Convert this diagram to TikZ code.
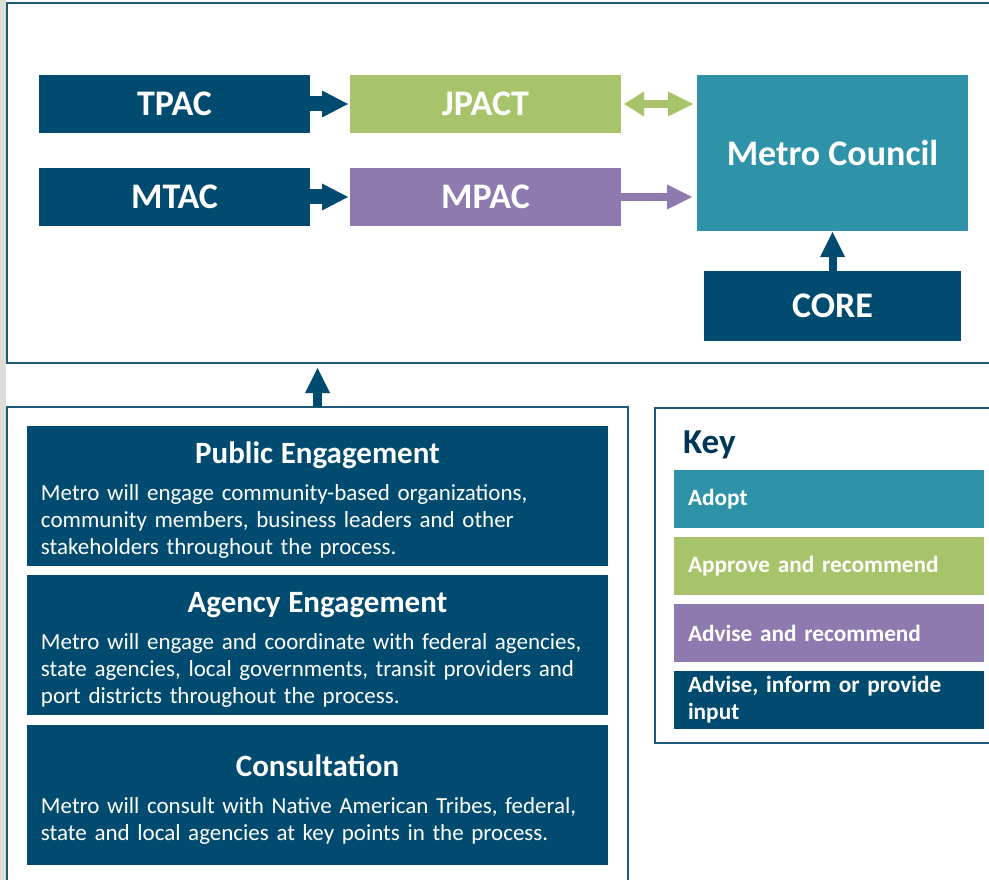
\documentclass[tikz,border=0pt]{standalone}
\usepackage{fontspec}
\setmainfont{Carlito}
\usetikzlibrary{positioning,arrows.meta}

\definecolor{navy}{RGB}{0,75,111}
\definecolor{framecol}{RGB}{30,88,122}
\definecolor{keynavy}{RGB}{0,55,88}
\definecolor{adoptcol}{RGB}{46,147,168}
\definecolor{approvecol}{RGB}{168,196,106}
\definecolor{advisecol}{RGB}{142,122,174}
\definecolor{stripcol}{RGB}{221,221,218}

\newcommand{\engtitle}[1]{{\centering\fontsize{31}{34}\selectfont\bfseries\rule{0pt}{30pt}#1\par}\vspace{10pt}}

\begin{document}
\begin{tikzpicture}[x=1pt,y=-1pt,
  box/.style={fill=#1,text=white,inner sep=0pt,outer sep=0pt,
    minimum width=271pt,minimum height=58pt,
    font=\fontsize{36}{40}\selectfont\bfseries},
  frame/.style={draw=framecol,line width=1.5pt,inner sep=0pt,outer sep=0pt},
  engbox/.style={fill=navy,text=white,outer sep=0pt,inner ysep=0pt,inner xsep=14pt,
    text width=553pt,minimum height=140pt,
    font=\fontsize{23}{27}\selectfont},
  keybox/.style={fill=#1,text=white,outer sep=0pt,inner ysep=0pt,inner xsep=14pt,
    text width=282pt,minimum height=58pt,align=left,
    font=\fontsize{23.3}{27}\selectfont\bfseries},
  bigarrow/.style={draw=#1,line width=15pt,
    -{Triangle[length=26pt,width=27pt,line width=0pt]}},
  slimarrow/.style={draw=#1,line width=8pt,
    -{Triangle[length=25pt,width=25pt,line width=0pt]}}]
  \clip (0,0) rectangle (989,880);
  \fill[stripcol] (0,0) rectangle (6,880);

  % outer frames
  \node[frame,minimum width=993pt,minimum height=360pt] (boardframe) at (503.5,183) {};
  \node[frame,minimum width=621pt,minimum height=493pt] (engframe) at (317.5,653.5) {};
  \node[frame,minimum width=345pt,minimum height=335pt] (keyframe) at (827.5,575.5) {};

  % committees
  \node[box=navy] (tpac) at (174.5,104) {TPAC};
  \node[box=approvecol] (jpact) [right=40pt of tpac] {JPACT};
  \node[box=navy] (mtac) [below=35pt of tpac] {MTAC};
  \node[box=advisecol] (mpac) [right=40pt of mtac] {MPAC};
  \node[box=adoptcol,minimum height=156pt] (council) at (832.5,153) {Metro Council};
  \node[box=navy,minimum width=257pt,minimum height=70pt] (core) [below=40pt of council] {CORE};

  \path (tpac) edge[bigarrow=navy,shorten >=2pt] (jpact)
        (mtac) edge[bigarrow=navy,shorten >=2pt] (mpac)
        (mpac.east) edge[slimarrow=advisecol,shorten >=5pt] (mpac.east -| council.west)
        (core) edge[slimarrow=navy,shorten >=1pt] (council);
  \draw[draw=approvecol,line width=8pt,
    {Triangle[length=20pt,width=25pt,line width=0pt]}-{Triangle[length=25pt,width=25pt,line width=0pt]},
    shorten <=3pt,shorten >=4pt] (jpact) -- (jpact -| council.west);

  % engagement
  \node[engbox] (public) at (317.5,496) {\engtitle{Public Engagement}
    \raggedright Metro will engage community-based organizations,\\
    community members, business leaders and other\\
    stakeholders throughout the process.};
  \node[engbox] (agency) [below=9pt of public] {\engtitle{Agency Engagement}
    \raggedright Metro will engage and coordinate with federal agencies,\\
    state agencies, local governments, transit providers and\\
    port districts throughout the process.};
  \node[engbox] (consult) [below=10pt of agency] {\engtitle{Consultation}
    \raggedright Metro will consult with Native American Tribes, federal,\\
    state and local agencies at key points in the process.};

  \path (engframe.north) edge[slimarrow=navy,line width=9pt,shorten >=5pt] (engframe.north |- boardframe.south);

  % key
  \node[anchor=west,text=keynavy,inner sep=0pt,font=\fontsize{35}{38}\selectfont\bfseries] (keytitle) at (683,445) {Key};
  \node[keybox=adoptcol] (adopt) at (829,499) {Adopt};
  \node[keybox=approvecol] (approve) [below=9pt of adopt] {Approve and recommend};
  \node[keybox=advisecol] (advise) [below=9pt of approve] {Advise and recommend};
  \node[keybox=navy] (inform) [below=9pt of advise] {Advise, inform or provide\\input};
\end{tikzpicture}
\end{document}
